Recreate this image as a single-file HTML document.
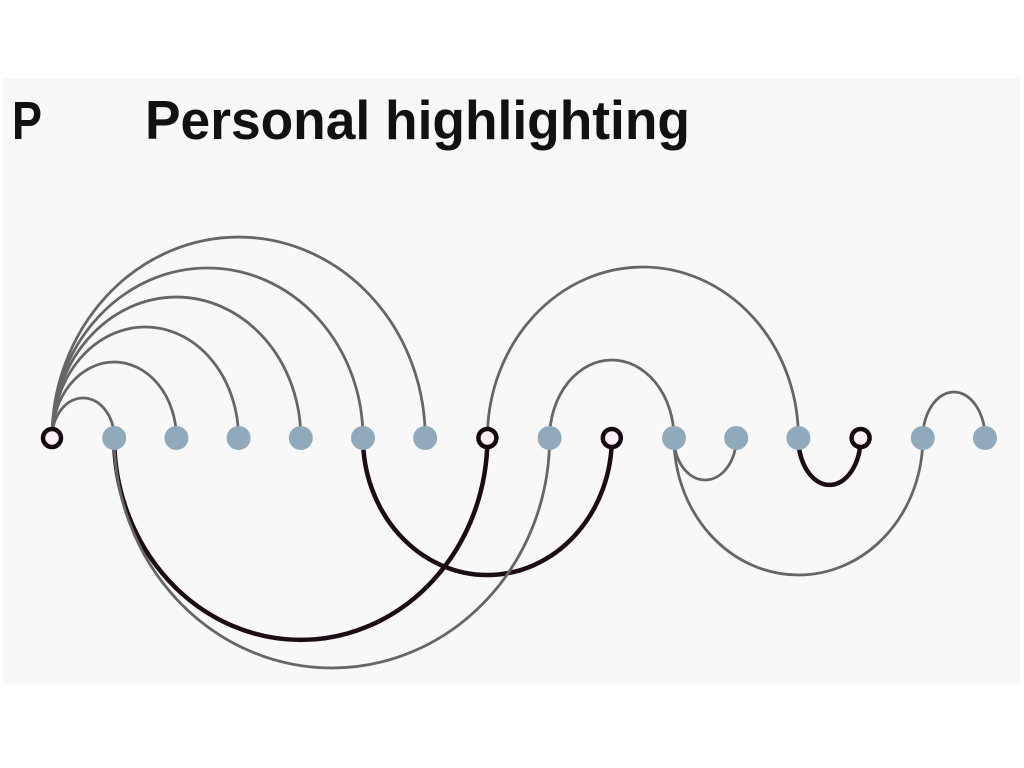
<!DOCTYPE html>
<html><head><meta charset="utf-8"><style>
html,body{margin:0;padding:0;background:#fff;width:1024px;height:768px;overflow:hidden}
svg{display:block}
</style></head><body>
<svg id="chart" width="1024" height="768" viewBox="0 0 1024 768" xmlns="http://www.w3.org/2000/svg">
<rect x="3" y="78" width="1017" height="607" fill="#f8f8f8"/>
<text x="12" y="139" font-family="Liberation Sans, sans-serif" font-weight="bold" font-size="54" fill="#111" textLength="30" lengthAdjust="spacingAndGlyphs">P</text>
<text x="145" y="139" font-family="Liberation Sans, sans-serif" font-weight="bold" font-size="55" fill="#111" textLength="545" lengthAdjust="spacingAndGlyphs">Personal highlighting</text>
<g id="arcs"></g>
<g id="nodes"></g>
</svg>
<script>
// node data: index and whether highlighted (personal)
const nodeIds = [0,1,2,3,4,5,6,7,8,9,10,11,12,13,14,15];
const highlighted = [1,0,0,0,0,0,0,1,0,1,0,0,0,1,0,0];
// arcs: source, target, side (1 above, -1 below), height, style (1 dark, 0 gray)
const arcSource = [0,0,0,0,0,0,7,8,14,1,5,1,10,12,10];
const arcTarget = [1,2,3,4,5,6,12,10,15,7,9,8,11,13,14];
const arcSide   = [1,1,1,1,1,1,1,1,1,-1,-1,-1,-1,-1,-1];
const arcHeight = [40,76,111,141,170,201,171,78,46,202,137,230,42,47,137];
const arcDark   = [0,0,0,0,0,0,0,0,0,1,1,0,0,1,0];

const x0 = 52, step = 62.2, yBase = 438;
const xScale = i => x0 + i*step;
const NS = "http://www.w3.org/2000/svg";
const gA = document.getElementById('arcs');
const gN = document.getElementById('nodes');

arcSource.forEach((s,k)=>{
  const t = arcTarget[k];
  const xa = xScale(s), xb = xScale(t);
  const rx = Math.abs(xb-xa)/2, ry = arcHeight[k];
  const sweep = arcSide[k] > 0 ? 1 : 0;
  const p = document.createElementNS(NS,'path');
  p.setAttribute('d', `M${xa},${yBase} A${rx},${ry} 0 0 ${sweep} ${xb},${yBase}`);
  p.setAttribute('fill','none');
  p.setAttribute('stroke', arcDark[k] ? '#1c0c16' : '#666');
  p.setAttribute('stroke-width', arcDark[k] ? 4.5 : 2.8);
  
  
  gA.appendChild(p);
});

nodeIds.forEach((n,i)=>{
  const c = document.createElementNS(NS,'circle');
  c.setAttribute('cx', xScale(n));
  c.setAttribute('cy', yBase);
  if (highlighted[i]) {
    c.setAttribute('r', 9);
    c.setAttribute('fill', '#fbeef4');
    c.setAttribute('stroke', '#140810');
    c.setAttribute('stroke-width', 4.5);
  } else {
    c.setAttribute('r', 12);
    c.setAttribute('fill', '#90aabb');
  }
  
  
  gN.appendChild(c);
});
</script>
</body></html>
